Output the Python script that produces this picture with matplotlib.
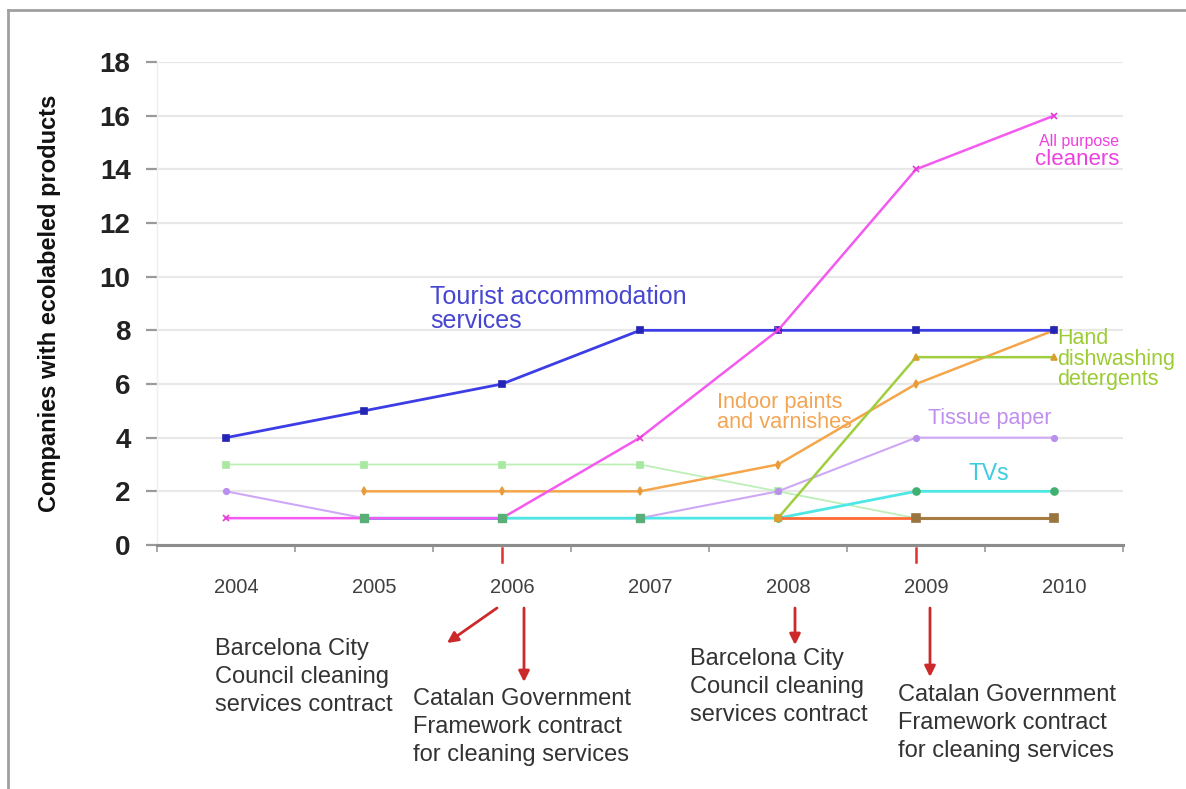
"""Ecolabelled products by year, with the public contracts that drove them."""

import matplotlib

matplotlib.use("Agg")
import matplotlib.pyplot as plt
import numpy as np
from matplotlib.lines import Line2D
from matplotlib.transforms import ScaledTranslation, blended_transform_factory

W, H = 1186, 789
nan = np.nan

years = ["2004", "2005", "2006", "2007", "2008", "2009", "2010"]
tourist_accommodation = [4, 5, 6, 8, 8, 8, 8]
all_purpose_cleaners = [1, 1, 1, 4, 8, 14, 16]
pale_green_series = [3, 3, 3, 3, 2, 1, nan]
tissue_paper = [2, 1, 1, 1, 2, 4, 4]
steel_blue_series = [nan, 1, 1, nan, nan, nan, nan]
tvs = [nan, 1, 1, 1, 1, 2, 2]
indoor_paints = [nan, 2, 2, 2, 3, 6, 8]
hand_dishwashing = [nan, nan, nan, nan, 1, 7, 7]
orange_red_series = [nan, nan, nan, nan, 1, 1, nan]
brown_series = [nan, nan, nan, nan, nan, 1, 1]

y_ticks = [0, 2, 4, 6, 8, 10, 12, 14, 16, 18]

# contract events: (year index, arrow start, arrow end, text pos, text)
contract_events = [
    (2, (497, 608), (447, 643), (215, 677),
     "Barcelona City\nCouncil cleaning\nservices contract"),
    (2, (524, 608), (524, 682), (413, 727),
     "Catalan Government\nFramework contract\nfor cleaning services"),
    (4, (795, 608), (795, 645), (690, 687),
     "Barcelona City\nCouncil cleaning\nservices contract"),
    (5, (930, 608), (930, 677), (898, 723),
     "Catalan Government\nFramework contract\nfor cleaning services"),
]

plt.rcParams["font.family"] = ["Liberation Sans", "DejaVu Sans"]

fig = plt.figure(figsize=(W / 100, H / 100), dpi=100)
ax = fig.add_axes([157 / W, (H - 545) / H, 966 / W, 483 / H])

x = np.arange(len(years))

series = [
    (pale_green_series, "#bdf0b6", "s", 4, 1.3, "#a8e8a0"),
    (tissue_paper, "#cfa8f5", "o", 4, 1.5, "#b990ee"),
    (tvs, "#4fe6e6", "o", 5, 2.0, "#3fb070"),
    (steel_blue_series, "#6b90ee", "s", 5, 2.0, "#55aa77"),
    (indoor_paints, "#f5a54a", "d", 4, 1.8, "#e99a3a"),
    (hand_dishwashing, "#9fcf3f", "^", 4, 1.8, "#d9a030"),
    (orange_red_series, "#ff6a35", "s", 5, 2.0, "#d9a030"),
    (brown_series, "#a67c45", "s", 6, 2.2, "#9a7540"),
    (tourist_accommodation, "#3d3de6", "s", 5, 2.0, "#2424b5"),
    (all_purpose_cleaners, "#f55af0", "x", 5, 1.8, "#e63ad6"),
]
for values, color, marker, size, width, marker_color in series:
    ax.plot(x, values, color=color, linewidth=width, marker=marker,
            markersize=size, markerfacecolor=marker_color,
            markeredgecolor=marker_color, markeredgewidth=1.2)

# green square markers sitting on the value-1 baseline
ax.plot(x[1:4], [tvs[i] for i in range(1, 4)], linestyle="none", marker="s",
        markersize=6, color="#5aae78", zorder=5)

ax.set_xlim(-0.5, len(years) - 0.5)
ax.set_ylim(0, 18)
ax.set_yticks(y_ticks)
ax.set_yticklabels([str(v) for v in y_ticks], fontsize=20, fontweight="bold",
                   color="#222222")
ax.tick_params(axis="y", length=8, width=1.6, color="#9a9a9a", pad=11)
ax.yaxis.grid(True, color="#e8e8e8", linewidth=1.6)
ax.set_axisbelow(True)

ax.set_xticks(x)
ax.set_xticklabels(years, fontsize=14.5, color="#404040")
ax.set_xticks(np.arange(-0.5, len(years)), minor=True)
ax.tick_params(axis="x", which="major", length=0, pad=24)
ax.tick_params(axis="x", which="minor", length=5, width=1.2, color="#9a9a9a")
shift = ScaledTranslation(10 / 100, 0, fig.dpi_scale_trans)
for label in ax.get_xticklabels():
    label.set_transform(label.get_transform() + shift)

for side in ("top", "right"):
    ax.spines[side].set_visible(False)
ax.spines["bottom"].set_color("#8c8c8c")
ax.spines["bottom"].set_linewidth(2.2)
ax.spines["left"].set_color("#eeeeee")
ax.spines["left"].set_linewidth(1.0)

ax.set_ylabel("Companies with ecolabeled products", fontsize=17,
              fontweight="bold", color="#111111")
ax.yaxis.set_label_coords(-96 / 966, 0.5)

# series labels
ax.text(1.48, 8.78, "Tourist accommodation\nservices", color="#4646d2",
        fontsize=18, va="center", ha="left", linespacing=1.0)
ax.text(6.18, 15.02, "All purpose", color="#ee40e0", fontsize=11.5,
        va="center", ha="center")
ax.text(6.17, 14.35, "cleaners", color="#ee40e0", fontsize=16,
        va="center", ha="center")
ax.text(6.02, 6.93, "Hand\ndishwashing\ndetergents", color="#9ccc34",
        fontsize=15.5, va="center", ha="left", linespacing=0.95,
        clip_on=False)
ax.text(3.56, 4.94, "Indoor paints\nand varnishes", color="#f2a655",
        fontsize=15.7, va="center", ha="left", linespacing=0.95)
ax.text(5.09, 4.70, "Tissue paper", color="#bf8ff0", fontsize=15.5,
        va="center", ha="left")
ax.text(5.38, 2.65, "TVs", color="#3ccbe0", fontsize=16.5, va="center",
        ha="left")

# red markers under the axis at the contract years
below = blended_transform_factory(ax.transData, ax.transAxes)
for idx in sorted({event[0] for event in contract_events} - {4}):
    ax.add_line(Line2D([idx, idx], [-0.006, -0.036], transform=below,
                       color="#e03030", linewidth=1.8, clip_on=False))

for _, start, end, text_pos, text in contract_events:
    ax.annotate("", xy=(end[0], H - end[1]), xytext=(start[0], H - start[1]),
                xycoords="figure pixels", textcoords="figure pixels",
                arrowprops=dict(arrowstyle="-|>", color="#cc2a2a", lw=2.0,
                                mutation_scale=16, shrinkA=0, shrinkB=0))
    fig.text(text_pos[0] / W, 1 - text_pos[1] / H, text, fontsize=17,
             color="#333333", va="center", ha="left", linespacing=1.38)

# page frame
frame_kw = dict(transform=fig.transFigure, color="#a0a0a0", linewidth=2.0)
fig.add_artist(Line2D([8 / W, 8 / W], [0, 1 - 10 / H], **frame_kw))
fig.add_artist(Line2D([8 / W, 1], [1 - 10 / H, 1 - 10 / H], **frame_kw))

fig.savefig("out.png", dpi=100)
